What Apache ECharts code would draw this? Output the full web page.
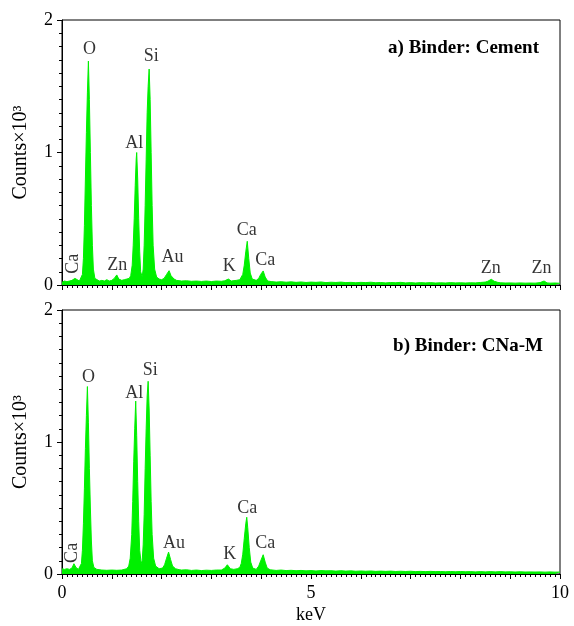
<!DOCTYPE html>
<html>
<head>
<meta charset="utf-8">
<script src="https://cdn.jsdelivr.net/npm/echarts@6/dist/echarts.min.js"></script>
<style>html,body{margin:0;padding:0;background:#fff}#c{width:574px;height:626px}</style>
</head>
<body>
<div id="c"></div>
<script>
// spectrum a) Binder: Cement  [keV, counts x10^3]
var specA = [[0,0.02],[0.05,0.03],[0.1,0.025],[0.15,0.03],[0.2,0.035],[0.26,0.05],[0.3,0.035],[0.35,0.03],[0.39,0.04],[0.41,0.08],[0.43,0.2],[0.45,0.45],[0.47,0.8],[0.49,1.15],[0.51,1.45],[0.53,1.69],[0.55,1.4],[0.57,1.0],[0.59,0.6],[0.61,0.3],[0.63,0.12],[0.66,0.05],[0.7,0.035],[0.75,0.03],[0.8,0.035],[0.85,0.03],[0.9,0.04],[0.95,0.03],[1.0,0.035],[1.05,0.05],[1.1,0.076],[1.14,0.045],[1.2,0.035],[1.25,0.04],[1.3,0.045],[1.35,0.05],[1.38,0.07],[1.41,0.15],[1.43,0.3],[1.45,0.5],[1.47,0.75],[1.49,0.95],[1.5,1.0],[1.52,0.8],[1.54,0.5],[1.56,0.25],[1.58,0.1],[1.61,0.06],[1.63,0.12],[1.65,0.3],[1.67,0.6],[1.69,0.95],[1.71,1.3],[1.73,1.5],[1.75,1.63],[1.77,1.4],[1.79,1.0],[1.81,0.6],[1.83,0.3],[1.86,0.12],[1.9,0.06],[1.95,0.045],[2.0,0.04],[2.05,0.05],[2.1,0.08],[2.15,0.108],[2.19,0.07],[2.25,0.045],[2.3,0.035],[2.4,0.03],[2.5,0.032],[2.6,0.028],[2.7,0.03],[2.8,0.027],[2.9,0.03],[3.0,0.026],[3.1,0.03],[3.2,0.028],[3.27,0.032],[3.34,0.045],[3.4,0.03],[3.5,0.035],[3.57,0.04],[3.6,0.05],[3.63,0.08],[3.66,0.15],[3.69,0.25],[3.72,0.33],[3.75,0.2],[3.78,0.09],[3.82,0.045],[3.9,0.035],[3.95,0.05],[3.99,0.08],[4.04,0.106],[4.08,0.06],[4.13,0.03],[4.2,0.026],[4.3,0.022],[4.4,0.025],[4.5,0.021],[4.6,0.024],[4.7,0.02],[4.8,0.023],[4.9,0.019],[5.0,0.022],[5.1,0.02],[5.2,0.023],[5.3,0.018],[5.4,0.021],[5.5,0.019],[5.6,0.022],[5.7,0.018],[5.8,0.02],[5.9,0.017],[6.0,0.02],[6.1,0.018],[6.2,0.021],[6.3,0.017],[6.4,0.019],[6.5,0.016],[6.6,0.019],[6.7,0.017],[6.8,0.02],[6.9,0.016],[7.0,0.018],[7.1,0.015],[7.2,0.018],[7.3,0.016],[7.4,0.018],[7.5,0.015],[7.6,0.017],[7.7,0.015],[7.8,0.018],[7.9,0.016],[8.0,0.017],[8.1,0.015],[8.2,0.017],[8.3,0.016],[8.4,0.019],[8.5,0.022],[8.55,0.028],[8.62,0.043],[8.68,0.028],[8.75,0.02],[8.8,0.017],[8.9,0.015],[9.0,0.016],[9.1,0.014],[9.2,0.016],[9.3,0.014],[9.4,0.015],[9.5,0.014],[9.6,0.018],[9.68,0.03],[9.74,0.016],[9.8,0.014],[9.9,0.015],[10,0.013]];

// spectrum b) Binder: CNa-M
var specB = [[0,0.04],[0.05,0.035],[0.1,0.04],[0.15,0.035],[0.2,0.045],[0.24,0.078],[0.28,0.05],[0.33,0.035],[0.37,0.045],[0.39,0.08],[0.41,0.18],[0.43,0.38],[0.45,0.65],[0.47,0.95],[0.49,1.2],[0.51,1.42],[0.53,1.15],[0.55,0.8],[0.57,0.5],[0.59,0.25],[0.61,0.1],[0.64,0.05],[0.7,0.035],[0.8,0.03],[0.9,0.028],[1.0,0.03],[1.1,0.028],[1.2,0.03],[1.3,0.04],[1.34,0.06],[1.37,0.12],[1.4,0.3],[1.42,0.55],[1.44,0.85],[1.46,1.1],[1.48,1.31],[1.5,1.05],[1.52,0.7],[1.54,0.4],[1.56,0.18],[1.59,0.08],[1.61,0.1],[1.63,0.22],[1.65,0.45],[1.67,0.8],[1.69,1.1],[1.71,1.35],[1.73,1.46],[1.75,1.25],[1.77,0.9],[1.79,0.55],[1.81,0.3],[1.84,0.12],[1.88,0.06],[1.95,0.04],[2.02,0.045],[2.06,0.07],[2.1,0.12],[2.14,0.166],[2.18,0.11],[2.22,0.06],[2.28,0.04],[2.35,0.033],[2.4,0.03],[2.5,0.032],[2.6,0.027],[2.7,0.03],[2.8,0.026],[2.9,0.029],[3.0,0.027],[3.1,0.03],[3.2,0.03],[3.27,0.045],[3.32,0.07],[3.38,0.04],[3.45,0.035],[3.52,0.04],[3.57,0.05],[3.6,0.08],[3.63,0.15],[3.66,0.27],[3.69,0.38],[3.71,0.43],[3.73,0.35],[3.76,0.2],[3.79,0.09],[3.83,0.045],[3.9,0.035],[3.95,0.06],[3.99,0.1],[4.04,0.146],[4.08,0.09],[4.12,0.045],[4.18,0.032],[4.3,0.027],[4.4,0.03],[4.5,0.026],[4.6,0.028],[4.7,0.025],[4.8,0.027],[4.9,0.024],[5.0,0.026],[5.1,0.023],[5.2,0.026],[5.3,0.024],[5.4,0.025],[5.5,0.022],[5.6,0.025],[5.7,0.022],[5.8,0.024],[5.9,0.021],[6.0,0.023],[6.1,0.021],[6.2,0.023],[6.3,0.02],[6.4,0.022],[6.5,0.02],[6.6,0.022],[6.7,0.019],[6.8,0.021],[6.9,0.019],[7.0,0.021],[7.1,0.018],[7.2,0.02],[7.3,0.018],[7.4,0.02],[7.5,0.018],[7.6,0.019],[7.7,0.017],[7.8,0.019],[7.9,0.017],[8.0,0.019],[8.1,0.017],[8.2,0.018],[8.3,0.016],[8.4,0.018],[8.5,0.016],[8.6,0.018],[8.7,0.016],[8.8,0.018],[8.9,0.016],[9.0,0.017],[9.1,0.015],[9.2,0.017],[9.3,0.015],[9.4,0.016],[9.5,0.015],[9.6,0.016],[9.7,0.014],[9.8,0.016],[9.9,0.014],[10,0.015]];

// peak annotations [element, keV, counts x10^3]
var labelsA = [['Ca',0.22,0.16],['O',0.55,1.78],['Zn',1.11,0.146],['Al',1.45,1.07],['Si',1.79,1.73],['Au',2.22,0.21],['K',3.36,0.14],['Ca',3.71,0.41],['Ca',4.08,0.19],['Zn',8.61,0.126],['Zn',9.63,0.126]];
var labelsB = [['Ca',0.21,0.16],['O',0.53,1.49],['Al',1.45,1.37],['Si',1.77,1.54],['Au',2.25,0.23],['K',3.37,0.15],['Ca',3.72,0.5],['Ca',4.08,0.23]];

var titles = ['a) Binder: Cement', 'b) Binder: CNa-M'];
var xTicks = [0, 5, 10];
var yTicks = [0, 1, 2];

var FONT = '"Liberation Serif", "Times New Roman", serif';
var GREEN = '#00f000';

function labelData(list) {
  return list.map(function (l) {
    var item = { value: [l[1], l[2]], name: l[0] };
    if (l[1] < 0.4) item.label = { rotate: 90 };
    return item;
  });
}

function xAxis(idx, showLabels) {
  return {
    type: 'value', gridIndex: idx, min: xTicks[0], max: xTicks[xTicks.length - 1], interval: 1,
    name: showLabels ? 'keV' : '', nameLocation: 'middle', nameGap: 32,
    nameTextStyle: { fontFamily: FONT, fontSize: 18, color: '#000' },
    axisLine: { onZero: false, lineStyle: { color: '#000', width: 1 } },
    axisTick: { show: true, length: 5, lineStyle: { color: '#000' } },
    minorTick: { show: true, splitNumber: 10, length: 3, lineStyle: { color: '#000' } },
    axisLabel: { show: showLabels, interval: 4, margin: 10, fontFamily: FONT, fontSize: 18, color: '#000',
      formatter: function (v) { return xTicks.indexOf(v) >= 0 ? String(v) : ''; } },
    splitLine: { show: false }, minorSplitLine: { show: false }
  };
}

function yAxis(idx) {
  return {
    type: 'value', gridIndex: idx, min: yTicks[0], max: yTicks[yTicks.length - 1], interval: 1,
    name: 'Counts×10³', nameLocation: 'middle', nameGap: 31, nameRotate: 90,
    nameTextStyle: { fontFamily: FONT, fontSize: 20, color: '#000' },
    axisLine: { onZero: false, lineStyle: { color: '#000', width: 1 } },
    axisTick: { show: true, length: 5, lineStyle: { color: '#000' } },
    minorTick: { show: true, splitNumber: 10, length: 3, lineStyle: { color: '#000' } },
    axisLabel: { margin: 9, fontFamily: FONT, fontSize: 18, color: '#000' },
    splitLine: { show: false }, minorSplitLine: { show: false }
  };
}

function specSeries(idx, data) {
  return {
    type: 'line', xAxisIndex: idx, yAxisIndex: idx, data: data, symbol: 'none',
    lineStyle: { color: GREEN, width: 1 }, areaStyle: { color: GREEN, opacity: 1 },
    silent: true, animation: false, z: 2
  };
}

function labelSeries(idx, list) {
  return {
    type: 'scatter', xAxisIndex: idx, yAxisIndex: idx, data: labelData(list),
    symbolSize: 0, silent: true, animation: false, z: 5,
    label: { show: true, position: 'inside', formatter: '{b}', fontFamily: FONT, fontSize: 18, color: '#000' }
  };
}

var chart = echarts.init(document.getElementById('c'), null, { renderer: 'canvas' });
chart.setOption({
  backgroundColor: '#fff',
  animation: false,
  title: [
    { text: titles[0], right: 30, top: 34, textStyle: { fontFamily: FONT, fontSize: 19, fontWeight: 'bold', color: '#000' } },
    { text: titles[1], right: 26, top: 332, textStyle: { fontFamily: FONT, fontSize: 19, fontWeight: 'bold', color: '#000' } }
  ],
  grid: [
    { left: 62, right: 14, top: 20, bottom: 341, show: true, borderColor: '#000', borderWidth: 1, backgroundColor: 'transparent' },
    { left: 62, right: 14, top: 310, bottom: 52, show: true, borderColor: '#000', borderWidth: 1, backgroundColor: 'transparent' }
  ],
  xAxis: [xAxis(0, false), xAxis(1, true)],
  yAxis: [yAxis(0), yAxis(1)],
  series: [specSeries(0, specA), specSeries(1, specB), labelSeries(0, labelsA), labelSeries(1, labelsB)]
});
</script>
</body>
</html>
